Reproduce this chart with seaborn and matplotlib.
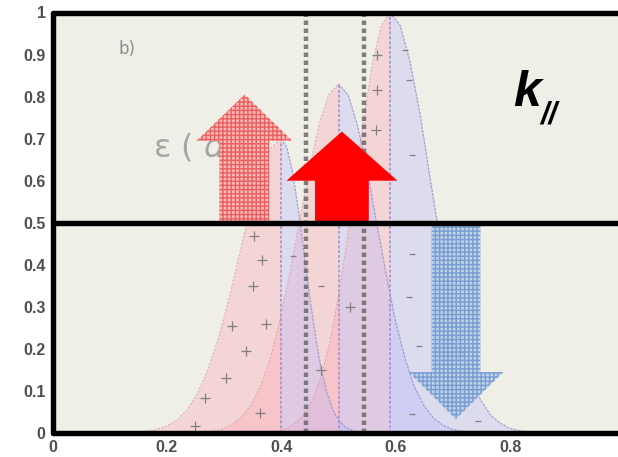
import numpy as np
import pandas as pd
import matplotlib
matplotlib.use("Agg")
import matplotlib.pyplot as plt
import seaborn as sns

# ---------------- data ----------------
x_ticks = [0, 0.2, 0.4, 0.6, 0.8, 1]
x_tick_labels = ["0", "0.2", "0.4", "0.6", "0.8", "1"]
y_ticks = [0, 0.1, 0.2, 0.3, 0.4, 0.5, 0.6, 0.7, 0.8, 0.9, 1]
y_tick_labels = ["0", "0.1", "0.2", "0.3", "0.4", "0.5", "0.6", "0.7", "0.8", "0.9", "1"]

# peak 1 (centre 0.40)
p1_left_x = [0.400, 0.382, 0.364, 0.345, 0.327, 0.309, 0.291, 0.272, 0.254, 0.236, 0.218, 0.199, 0.181, 0.163, 0.145]
p1_right_x = [0.400, 0.410, 0.420, 0.430, 0.440, 0.450, 0.460, 0.470, 0.480, 0.490, 0.500, 0.510, 0.520, 0.530, 0.540]
p1_y = [0.700, 0.678, 0.618, 0.529, 0.425, 0.321, 0.228, 0.151, 0.095, 0.056, 0.031, 0.016, 0.008, 0.004, 0.001]
# peak 2 (centre 0.50)
p2_left_x = [0.500, 0.483, 0.466, 0.449, 0.432, 0.415, 0.398, 0.381, 0.364, 0.347, 0.330, 0.313, 0.296, 0.279, 0.262]
p2_right_x = [0.500, 0.517, 0.533, 0.550, 0.566, 0.583, 0.599, 0.616, 0.632, 0.649, 0.665, 0.682, 0.698, 0.715, 0.731]
p2_y = [0.830, 0.804, 0.733, 0.627, 0.504, 0.380, 0.270, 0.179, 0.112, 0.066, 0.037, 0.019, 0.009, 0.004, 0.002]
# peak 3 (centre 0.59)
p3_left_x = [0.590, 0.575, 0.560, 0.545, 0.530, 0.515, 0.500, 0.485, 0.470, 0.455, 0.440, 0.425, 0.410, 0.395, 0.380]
p3_right_x = [0.590, 0.608, 0.625, 0.643, 0.660, 0.678, 0.695, 0.713, 0.730, 0.748, 0.765, 0.783, 0.800, 0.818, 0.835]
p3_y = [1.000, 0.969, 0.883, 0.755, 0.607, 0.458, 0.325, 0.216, 0.135, 0.080, 0.044, 0.023, 0.011, 0.005, 0.002]

peak_centres = [0.40, 0.50, 0.59]
peak_heights = [0.70, 0.83, 1.00]
window_edges = [0.443, 0.544]

plus_x = [0.249, 0.266, 0.304, 0.339, 0.313, 0.374, 0.350, 0.367, 0.353, 0.362, 0.567, 0.567, 0.565, 0.470, 0.520]
plus_y = [0.017, 0.083, 0.131, 0.195, 0.255, 0.259, 0.350, 0.412, 0.469, 0.048, 0.900, 0.815, 0.720, 0.150, 0.300]
dash_x = [0.617, 0.623, 0.628, 0.628, 0.623, 0.640, 0.628, 0.744, 0.420, 0.470]
dash_y = [0.910, 0.840, 0.660, 0.426, 0.324, 0.207, 0.045, 0.029, 0.420, 0.350]

# arrows: (shaft left, shaft right, head left, head right, tip x, base y, head-base y, tip y)
arrow_up_faint = [0.292, 0.379, 0.252, 0.419, 0.336, 0.50, 0.695, 0.805]
arrow_up_solid = [0.459, 0.553, 0.409, 0.603, 0.506, 0.50, 0.600, 0.717]
arrow_down = [0.663, 0.748, 0.623, 0.788, 0.705, 0.50, 0.145, 0.033]

# ---------------- figure ----------------
sns.set_theme(style="white")
plt.rcParams["font.family"] = ["DejaVu Sans"]
plt.rcParams["hatch.linewidth"] = 1.0

fig = plt.figure(figsize=(6.18, 4.57), dpi=100)
fig.patch.set_facecolor("white")
ax = fig.add_axes([52.5 / 618, 24 / 457, 572 / 618, 420.5 / 457])
ax.set_facecolor("#f0efe7")

pink = (1.0, 0.63, 0.70)
lav = (0.70, 0.71, 1.0)

halves = [
    (p1_left_x, p1_y, pink, "#e3a0a8"),
    (p2_left_x, p2_y, pink, "#e3a0a8"),
    (p3_left_x, p3_y, pink, "#e3a0a8"),
    (p1_right_x, p1_y, lav, "#9090c8"),
    (p2_right_x, p2_y, lav, "#9090c8"),
    (p3_right_x, p3_y, lav, "#9090c8"),
]
for xs, ys, fc, ec in halves:
    ax.fill_between(xs, 0, ys, color=fc, alpha=0.32, lw=0, zorder=1)
for xs, ys, fc, ec in halves:
    d = pd.DataFrame({"x": xs, "y": ys})
    sns.lineplot(data=d, x="x", y="y", ax=ax, color=ec, lw=0.9, alpha=0.8,
                 linestyle=(0, (2, 1)), zorder=2)

ax.vlines(peak_centres, 0, peak_heights, colors="#9a86d8", lw=1.4, alpha=0.75,
          linestyles=(0, (1.5, 1)), zorder=2)
ax.vlines(window_edges, 0, 1, colors="#6a6a6a", lw=3.2, alpha=0.85,
          linestyles=(0, (1, 0.8)), zorder=3)

sns.scatterplot(x=plus_x, y=plus_y, ax=ax, marker="+", s=45, color="#808080",
                linewidth=0.9, zorder=4)
sns.scatterplot(x=dash_x, y=dash_y, ax=ax, marker="_", s=25, color="#808080",
                linewidth=0.9, zorder=4)

ax.text(0.13, 0.914, "b)", fontsize=12, color="#8f8f8f", ha="center", va="center", zorder=3)
ax.text(0.256, 0.68, r"ε ( $d$ )", fontsize=23, color="#a5a5a5",
        ha="center", va="center", zorder=3)


def arrow_poly(a):
    sl, sr, hl, hr, tx, y0, yh, yt = a
    return [(sl, y0), (sr, y0), (sr, yh), (hr, yh), (tx, yt), (hl, yh), (sl, yh)]


ax.add_patch(plt.Polygon(arrow_poly(arrow_up_faint), closed=True, facecolor="#f6b3b3",
                         edgecolor="#ec5555", hatch="++++", lw=0, alpha=0.9, zorder=5))
ax.add_patch(plt.Polygon(arrow_poly(arrow_down), closed=True, facecolor="#b8cde8",
                         edgecolor="#6b94cc", hatch="++++", lw=0, alpha=0.85, zorder=5))
ax.add_patch(plt.Polygon(arrow_poly(arrow_up_solid), closed=True, facecolor="#ff0000",
                         edgecolor="none", zorder=6))

ax.text(0.805, 0.778, "k", fontsize=36, fontweight="bold", style="italic",
        family="Liberation Sans", color="black", ha="left", va="baseline", zorder=7)
ax.text(0.852, 0.735, "//", fontsize=22, fontweight="bold", style="italic",
        family="Liberation Sans", color="black", ha="left", va="baseline", zorder=7)

# thick black frame lines
for yv in [0, 0.5, 1]:
    ax.axhline(yv, color="black", lw=3.9, zorder=8, clip_on=False)
ax.axvline(0, color="black", lw=3.9, zorder=8, clip_on=False)
for s in ax.spines.values():
    s.set_visible(False)

ax.set_xlim(0, 1)
ax.set_ylim(0, 1)
ax.set_xticks(x_ticks)
ax.set_xticklabels(x_tick_labels)
ax.set_yticks(y_ticks)
ax.set_yticklabels(y_tick_labels)
ax.set_xlabel("")
ax.set_ylabel("")
ax.tick_params(axis="both", direction="in", length=3, color="#bdbdbd", width=0.8,
               labelsize=11.5, labelcolor="#505050", pad=5)
for lab in ax.get_xticklabels() + ax.get_yticklabels():
    lab.set_fontweight("bold")
    lab.set_family("Liberation Sans")

fig.savefig("out.png", dpi=100)
